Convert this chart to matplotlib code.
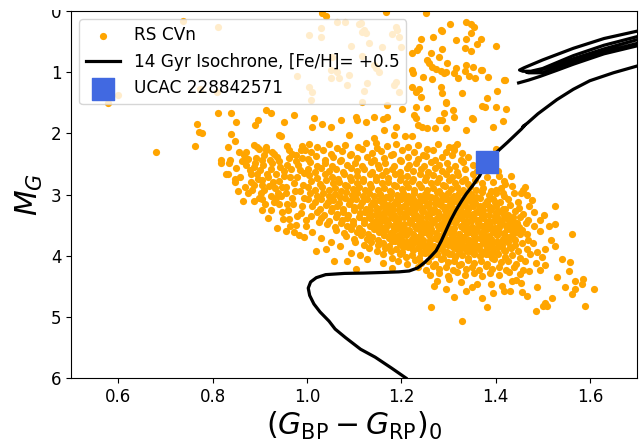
import matplotlib
matplotlib.use("Agg")
import matplotlib.pyplot as plt
from matplotlib.patches import Rectangle
import numpy as np

# ---------------- data ----------------
# RS CVn stars: (BP-RP)_0 colour, absolute G magnitude
rs_sparse = [
    (0.579,1.51),(0.681,2.30),(0.762,2.21),(0.768,1.84),(0.772,1.98),(0.777,2.00),(0.811,1.66),(0.840,1.67),
    (0.849,1.82),(0.840,2.01),(0.847,2.13),(0.832,2.23),(0.891,1.87),(0.896,1.79),(0.913,1.62),(0.923,1.66),
    (0.951,1.82),(0.972,1.70),(1.009,1.46),(1.015,1.75),(1.032,1.84),(1.011,1.90),(1.051,1.90),(1.072,1.79),
    (0.945,2.04),(0.940,2.03),
    (0.555,1.41),(0.600,1.38),(0.738,0.16),(0.811,0.26),(0.774,1.28),(0.809,1.33),(0.979,1.07),(1.004,1.25),
    (1.004,0.39),(1.030,0.28),(1.030,0.43),(1.064,0.18),(1.081,0.18),(1.111,0.21),(1.121,0.31),(1.126,0.36),
    (1.189,0.26),(1.191,0.31),(1.181,0.38),(1.094,0.57),(1.132,0.52),(1.051,0.97),(1.064,1.00),(1.089,1.05),
    (1.128,1.18),(1.121,1.30),(1.085,1.21),(1.189,1.16),(1.185,1.21),(1.143,0.89),(1.147,0.93),(1.051,1.10),
    (1.011,1.33),(1.196,1.33),(1.053,0.75),(1.117,0.74),(1.160,0.59),(1.200,0.59),(1.068,1.10),(1.153,1.00),
    (1.196,0.43),(1.115,0.20),(1.117,0.34),
    (1.032,0.03),(1.040,0.08),(1.168,0.02),(1.253,0.03),(1.304,0.21),(1.285,0.31),(1.268,0.43),(1.243,0.46),
    (1.238,0.59),(1.234,0.64),(1.223,0.69),(1.264,0.69),(1.281,0.75),(1.255,0.80),(1.260,0.85),(1.266,0.92),
    (1.274,0.95),(1.285,0.98),(1.291,1.02),(1.298,0.85),(1.223,0.97),(1.226,1.02),(1.247,1.08),(1.266,1.11),
    (1.313,1.02),(1.223,1.25),(1.232,1.33),(1.243,1.41),(1.285,1.25),(1.287,1.34),(1.296,1.51),(1.309,1.62),
    (1.313,1.74),(1.255,1.59),(1.232,1.57),(1.281,1.79),(1.338,0.18),(1.349,0.21),(1.355,0.26),(1.347,0.36),
    (1.287,0.33),(1.317,0.48),(1.338,0.46),(1.360,0.54),(1.370,0.46),(1.336,0.61),(1.349,0.66),(1.287,0.62),
    (1.402,0.57),(1.296,1.00),(1.336,0.98),(1.353,0.92),(1.370,0.97),(1.343,1.07),(1.357,1.10),(1.385,1.08),
    (1.321,1.10),(1.421,1.12),(1.328,1.34),(1.404,1.30),(1.296,1.48),(1.381,1.43),(1.372,1.56),(1.402,1.57),
    (1.423,1.61),(1.353,1.77),(1.415,1.80),(1.338,1.95),(1.394,1.90),(1.313,2.23),(1.294,2.30),(1.287,2.39),
    (1.402,2.25),(1.117,1.49),(1.170,1.54),(1.202,1.61),(1.228,1.70),(1.232,1.75),(1.104,1.74),(1.106,1.79),
    (1.126,1.82),(1.143,1.74),(1.162,1.77),(1.170,1.74),(1.189,1.90),(1.164,1.95),(1.185,2.03),(1.209,2.05),
    (1.223,2.05),(1.236,1.87),(1.245,1.90),(1.255,1.92),(1.272,1.92),(1.287,1.79),(1.296,1.92),(1.291,1.67),
    (1.089,2.02),(1.143,2.08),(1.147,2.15),(1.351,1.75),(1.377,1.57),(1.419,1.13),(1.238,1.28),(1.317,0.93),
    (1.338,0.89),(1.372,0.97),
]

rs_band_left = [
    (0.817,2.43),(0.817,2.48),(0.838,2.44),(0.836,2.49),(0.849,2.57),(0.828,2.67),(0.832,2.66),(0.847,2.75),
    (0.847,2.80),(0.855,2.95),(0.864,3.11),(0.857,2.30),(0.872,2.31),(0.862,2.46),(0.870,2.52),(0.881,2.67),
    (0.881,2.79),(0.889,2.85),(0.891,2.49),(0.894,2.23),(0.889,2.19),(0.899,2.26),(0.894,2.66),(0.889,3.10),
    (0.898,3.05),(0.904,3.07),(0.887,2.55),(0.904,2.44),(0.904,2.77),(0.909,2.92),(0.906,3.25),(0.913,2.28),
    (0.926,2.49),(0.915,2.66),(0.934,2.66),(0.930,2.33),(0.913,2.23),(0.926,2.31),(0.923,3.02),(0.934,3.05),
    (0.945,3.02),(0.955,2.98),(0.936,3.54),(0.955,3.59),(0.957,2.20),(0.968,2.33),(0.989,2.20),(0.987,2.28),
    (0.983,3.67),(0.940,2.78),(0.919,2.86),(0.948,2.88),(0.952,2.62),(0.941,2.45),(0.958,2.52),(0.918,3.38),
    (0.947,3.28),(0.962,3.40),(0.971,3.15),(0.965,2.72),(0.975,2.95),(0.978,2.45),(0.985,2.60),(0.992,2.85),
    (0.995,3.05),(0.988,3.30),(0.998,3.52),(0.973,3.62),(0.868,2.88),(0.876,2.42),(0.875,2.97),(0.900,2.60),
    (0.910,2.35),(0.925,2.58),(0.932,2.90),(0.958,3.15),(0.978,3.50),(0.963,2.40),(0.980,2.72),(0.990,2.40),
    (0.995,3.70),(1.012,3.62),(1.031,3.71),(1.052,3.78),(1.071,3.85),(1.094,3.95),(1.112,3.99),(1.026,3.45),
    (1.008,3.35),
    (0.858,2.72),(0.866,2.36),(0.879,2.60),(0.884,2.93),(0.893,2.40),(0.897,2.74),(0.903,2.98),(0.908,2.52),
    (0.912,3.15),(0.917,2.71),(0.921,2.43),(0.928,2.80),(0.931,3.12),(0.937,2.38),(0.939,2.98),(0.944,2.55),
    (0.949,3.40),(0.951,2.70),(0.956,2.87),(0.960,3.25),(0.962,2.28),(0.966,2.58),(0.969,3.05),(0.972,2.82),
    (0.976,2.35),(0.979,3.35),(0.982,2.52),(0.986,2.95),(0.989,3.18),(0.993,2.65),(0.996,2.27),(0.998,3.42),
    (0.965,3.52),(0.942,3.15),(0.925,3.25),(0.905,2.85),
]

rs_band_upper = [
    (1.004,2.18),(1.021,2.23),(1.046,2.17),(1.063,2.24),(1.081,2.19),(1.108,2.22),(1.125,2.16),(1.149,2.24),
    (1.171,2.20),(1.188,2.17),(1.214,2.23),(1.236,2.19),(1.255,2.25),(1.279,2.17),(1.301,2.22),(1.318,2.18),
    (1.009,2.31),(1.034,2.27),(1.052,2.34),(1.074,2.29),(1.093,2.33),(1.117,2.26),(1.139,2.32),(1.158,2.29),
    (1.183,2.34),(1.201,2.27),(1.227,2.31),(1.246,2.35),(1.268,2.28),(1.311,2.27),(1.329,2.32),
    (1.002,2.42),(1.019,2.37),(1.038,2.43),(1.055,2.39),(1.072,2.44),(1.091,2.36),(1.106,2.41),(1.127,2.38),
    (1.142,2.44),(1.163,2.40),(1.178,2.36),(1.197,2.43),(1.215,2.38),(1.236,2.42),(1.252,2.37),(1.271,2.44),
    (1.308,2.36),(1.326,2.43),(1.342,2.39),
    (1.007,2.47),(1.022,2.53),(1.039,2.49),(1.054,2.54),(1.071,2.46),(1.086,2.51),(1.103,2.48),(1.118,2.54),
    (1.135,2.47),(1.151,2.52),(1.166,2.49),(1.184,2.54),(1.199,2.46),(1.216,2.51),(1.231,2.48),(1.249,2.53),
    (1.264,2.47),(1.281,2.52),(1.297,2.49),(1.314,2.54),(1.331,2.47),(1.352,2.51),
    (1.003,2.58),(1.017,2.63),(1.031,2.57),(1.048,2.62),(1.062,2.59),(1.077,2.64),(1.093,2.56),(1.107,2.61),
    (1.121,2.58),(1.138,2.63),(1.152,2.57),(1.167,2.62),(1.181,2.59),(1.197,2.64),(1.212,2.57),(1.226,2.61),
    (1.242,2.58),(1.257,2.63),(1.271,2.56),(1.287,2.61),(1.302,2.59),(1.318,2.64),(1.335,2.58),(1.361,2.62),
    (1.004,2.68),(1.022,2.73),(1.039,2.66),(1.053,2.71),(1.066,2.74),(1.079,2.67),(1.092,2.72),(1.106,2.69),
    (1.119,2.74),(1.133,2.66),(1.146,2.71),(1.159,2.68),(1.173,2.73),(1.186,2.67),(1.199,2.72),(1.213,2.69),
    (1.226,2.74),(1.240,2.66),(1.253,2.71),(1.267,2.68),(1.280,2.73),(1.294,2.66),(1.307,2.71),(1.321,2.68),
    (1.336,2.74),(1.352,2.67),(1.381,2.72),(1.408,2.69),
    (1.009,2.78),(1.027,2.83),(1.041,2.77),(1.055,2.82),(1.068,2.79),(1.081,2.84),(1.094,2.76),(1.107,2.81),
    (1.120,2.78),(1.133,2.83),(1.146,2.77),(1.159,2.82),(1.172,2.79),(1.185,2.84),(1.198,2.76),(1.211,2.81),
    (1.224,2.78),(1.237,2.83),(1.250,2.77),(1.263,2.82),(1.276,2.79),(1.289,2.84),(1.302,2.76),(1.315,2.81),
    (1.328,2.78),(1.341,2.83),(1.357,2.77),(1.372,2.82),(1.395,2.79),(1.421,2.83),
    (1.002,2.88),(1.018,2.93),(1.033,2.87),(1.046,2.92),(1.059,2.89),(1.072,2.94),(1.085,2.86),(1.098,2.91),
    (1.111,2.88),(1.124,2.93),(1.137,2.87),(1.150,2.92),(1.163,2.89),(1.176,2.94),(1.189,2.86),(1.202,2.91),
    (1.215,2.88),(1.228,2.93),(1.241,2.87),(1.254,2.92),(1.267,2.89),(1.280,2.94),(1.293,2.86),(1.306,2.91),
    (1.319,2.88),(1.332,2.93),(1.345,2.87),(1.359,2.92),(1.374,2.89),(1.391,2.94),(1.412,2.90),(1.436,2.86),
    (1.458,2.93),(1.462,2.87),(1.455,2.98),(1.415,2.97),(1.402,2.93),(1.405,2.62),(1.418,2.78),(1.433,2.70),
]

rs_band_core = [
    (1.006,2.98),(1.021,3.03),(1.034,2.97),(1.047,3.02),(1.059,2.99),(1.071,3.04),(1.083,2.96),(1.095,3.01),
    (1.107,2.98),(1.119,3.03),(1.131,2.97),(1.143,3.02),(1.155,2.99),(1.167,3.04),(1.179,2.96),(1.191,3.01),
    (1.203,2.98),(1.215,3.03),(1.227,2.97),(1.239,3.02),(1.251,2.99),(1.263,3.04),(1.275,2.96),(1.287,3.01),
    (1.299,2.98),(1.311,3.03),(1.323,2.97),(1.335,3.02),(1.347,2.99),(1.359,3.04),(1.372,2.96),(1.386,3.01),
    (1.401,2.98),(1.418,3.03),(1.439,2.97),(1.466,3.01),
    (1.003,3.08),(1.017,3.13),(1.031,3.07),(1.044,3.12),(1.056,3.09),(1.068,3.14),(1.080,3.06),(1.092,3.11),
    (1.104,3.08),(1.116,3.13),(1.128,3.07),(1.140,3.12),(1.152,3.09),(1.164,3.14),(1.176,3.06),(1.188,3.11),
    (1.200,3.08),(1.212,3.13),(1.224,3.07),(1.236,3.12),(1.248,3.09),(1.260,3.14),(1.272,3.06),(1.284,3.11),
    (1.296,3.08),(1.308,3.13),(1.320,3.07),(1.332,3.12),(1.344,3.09),(1.356,3.14),(1.368,3.06),(1.381,3.11),
    (1.395,3.08),(1.410,3.13),(1.426,3.07),(1.447,3.12),(1.478,3.09),
    (1.012,3.18),(1.027,3.23),(1.040,3.17),(1.053,3.22),(1.065,3.19),(1.077,3.24),(1.089,3.16),(1.101,3.21),
    (1.113,3.18),(1.125,3.23),(1.137,3.17),(1.149,3.22),(1.161,3.19),(1.173,3.24),(1.185,3.16),(1.197,3.21),
    (1.209,3.18),(1.221,3.23),(1.233,3.17),(1.245,3.22),(1.257,3.19),(1.269,3.24),(1.281,3.16),(1.293,3.21),
    (1.305,3.18),(1.317,3.23),(1.329,3.17),(1.341,3.22),(1.353,3.19),(1.365,3.24),(1.377,3.16),(1.389,3.21),
    (1.402,3.18),(1.416,3.23),(1.431,3.17),(1.449,3.22),(1.472,3.19),(1.526,3.18),
    (1.022,3.28),(1.037,3.33),(1.051,3.27),(1.064,3.32),(1.076,3.29),(1.088,3.34),(1.100,3.26),(1.112,3.31),
    (1.124,3.28),(1.136,3.33),(1.148,3.27),(1.160,3.32),(1.172,3.29),(1.184,3.34),(1.196,3.26),(1.208,3.31),
    (1.220,3.28),(1.232,3.33),(1.244,3.27),(1.256,3.32),(1.268,3.29),(1.280,3.34),(1.292,3.26),(1.304,3.31),
    (1.316,3.28),(1.328,3.33),(1.340,3.27),(1.352,3.32),(1.364,3.29),(1.376,3.34),(1.388,3.26),(1.400,3.31),
    (1.413,3.28),(1.427,3.33),(1.442,3.27),(1.459,3.32),(1.481,3.29),(1.503,3.34),
    (1.031,3.38),(1.047,3.43),(1.061,3.37),(1.074,3.42),(1.086,3.39),(1.098,3.44),(1.110,3.36),(1.122,3.41),
    (1.134,3.38),(1.146,3.43),(1.158,3.37),(1.170,3.42),(1.182,3.39),(1.194,3.44),(1.206,3.36),(1.218,3.41),
    (1.230,3.38),(1.242,3.43),(1.254,3.37),(1.266,3.42),(1.278,3.39),(1.290,3.44),(1.302,3.36),(1.314,3.41),
    (1.326,3.38),(1.338,3.43),(1.350,3.37),(1.362,3.42),(1.374,3.39),(1.386,3.44),(1.398,3.36),(1.410,3.41),
    (1.423,3.38),(1.437,3.43),(1.452,3.37),(1.468,3.42),(1.494,3.41),(1.513,3.51),(1.526,3.48),
    (1.043,3.48),(1.059,3.53),(1.073,3.47),(1.086,3.52),(1.098,3.49),(1.110,3.54),(1.122,3.46),(1.134,3.51),
    (1.146,3.48),(1.158,3.53),(1.170,3.47),(1.182,3.52),(1.194,3.49),(1.206,3.54),(1.218,3.46),(1.230,3.51),
    (1.242,3.48),(1.254,3.53),(1.266,3.47),(1.278,3.52),(1.290,3.49),(1.302,3.54),(1.314,3.46),(1.326,3.51),
    (1.338,3.48),(1.350,3.53),(1.362,3.47),(1.374,3.52),(1.386,3.49),(1.398,3.54),(1.410,3.46),(1.422,3.51),
    (1.435,3.48),(1.449,3.53),(1.464,3.47),(1.482,3.52),
    (1.061,3.58),(1.078,3.63),(1.093,3.57),(1.106,3.62),(1.118,3.59),(1.130,3.64),(1.142,3.56),(1.154,3.61),
    (1.166,3.58),(1.178,3.63),(1.190,3.57),(1.202,3.62),(1.214,3.59),(1.226,3.64),(1.238,3.56),(1.250,3.61),
    (1.262,3.58),(1.274,3.63),(1.286,3.57),(1.298,3.62),(1.310,3.59),(1.322,3.64),(1.334,3.56),(1.346,3.61),
    (1.358,3.58),(1.370,3.63),(1.382,3.57),(1.394,3.62),(1.406,3.59),(1.418,3.64),(1.430,3.56),(1.443,3.61),
    (1.457,3.58),(1.466,3.64),(1.494,3.59),(1.562,3.64),
    (1.082,3.68),(1.099,3.73),(1.114,3.67),(1.127,3.72),(1.139,3.69),(1.151,3.74),(1.163,3.66),(1.175,3.71),
    (1.187,3.68),(1.199,3.73),(1.211,3.67),(1.223,3.72),(1.235,3.69),(1.247,3.74),(1.259,3.66),(1.271,3.71),
    (1.283,3.68),(1.295,3.73),(1.307,3.67),(1.319,3.72),(1.331,3.69),(1.343,3.74),(1.355,3.66),(1.367,3.71),
    (1.379,3.68),(1.391,3.73),(1.403,3.67),(1.415,3.72),(1.428,3.69),(1.442,3.74),(1.468,3.75),(1.517,3.74),
    (1.479,3.80),
    (1.103,3.78),(1.121,3.83),(1.137,3.77),(1.150,3.82),(1.162,3.79),(1.174,3.84),(1.186,3.76),(1.198,3.81),
    (1.210,3.78),(1.222,3.83),(1.234,3.77),(1.246,3.82),(1.258,3.79),(1.270,3.84),(1.282,3.76),(1.294,3.81),
    (1.306,3.78),(1.318,3.83),(1.330,3.77),(1.342,3.82),(1.354,3.79),(1.366,3.84),(1.378,3.76),(1.390,3.81),
    (1.402,3.78),(1.414,3.83),(1.427,3.77),(1.441,3.82),(1.456,3.79),(1.504,3.89),(1.526,3.84),
    (1.019,3.92),(1.040,3.89),(1.131,3.88),(1.149,3.93),(1.165,3.87),(1.178,3.92),(1.190,3.89),(1.202,3.94),
    (1.214,3.86),(1.226,3.91),(1.238,3.88),(1.250,3.93),(1.262,3.87),(1.274,3.92),(1.286,3.89),(1.298,3.94),
    (1.310,3.86),(1.322,3.91),(1.334,3.88),(1.346,3.93),(1.358,3.87),(1.370,3.92),(1.382,3.89),(1.394,3.94),
    (1.406,3.86),(1.419,3.91),(1.433,3.88),(1.448,3.93),(1.466,3.89),(1.489,3.94),
]

# extra stars that fill the densest part of the clump
rs_core_fill = [
    (1.161,3.06),(1.177,3.03),(1.193,3.07),(1.209,3.04),(1.225,3.08),(1.241,3.05),(1.257,3.03),(1.273,3.07),
    (1.289,3.04),(1.305,3.08),(1.321,3.05),(1.337,3.03),(1.353,3.07),
    (1.143,3.16),(1.159,3.13),(1.175,3.17),(1.191,3.14),(1.207,3.18),(1.223,3.15),(1.239,3.13),(1.255,3.17),
    (1.271,3.14),(1.287,3.18),(1.303,3.15),(1.319,3.13),(1.335,3.17),(1.351,3.14),(1.367,3.18),(1.383,3.15),
    (1.399,3.13),
    (1.134,3.26),(1.150,3.23),(1.166,3.27),(1.182,3.24),(1.198,3.28),(1.214,3.25),(1.230,3.23),(1.246,3.27),
    (1.262,3.24),(1.278,3.28),(1.294,3.25),(1.310,3.23),(1.326,3.27),(1.342,3.24),(1.358,3.28),(1.374,3.25),
    (1.390,3.23),(1.406,3.27),(1.420,3.24),
    (1.131,3.36),(1.147,3.33),(1.163,3.37),(1.179,3.34),(1.195,3.38),(1.211,3.35),(1.227,3.33),(1.243,3.37),
    (1.259,3.34),(1.275,3.38),(1.291,3.35),(1.307,3.33),(1.323,3.37),(1.339,3.34),(1.355,3.38),(1.371,3.35),
    (1.387,3.33),(1.403,3.37),(1.419,3.34),(1.437,3.36),
    (1.141,3.46),(1.157,3.43),(1.173,3.47),(1.189,3.44),(1.205,3.48),(1.221,3.45),(1.237,3.43),(1.253,3.47),
    (1.269,3.44),(1.285,3.48),(1.301,3.45),(1.317,3.43),(1.333,3.47),(1.349,3.44),(1.365,3.48),(1.381,3.45),
    (1.397,3.43),(1.413,3.47),(1.429,3.44),(1.445,3.46),
    (1.152,3.56),(1.168,3.53),(1.184,3.57),(1.200,3.54),(1.216,3.58),(1.232,3.55),(1.248,3.53),(1.264,3.57),
    (1.280,3.54),(1.296,3.58),(1.312,3.55),(1.328,3.53),(1.344,3.57),(1.360,3.54),(1.376,3.58),(1.392,3.55),
    (1.408,3.53),(1.424,3.57),(1.440,3.54),
    (1.163,3.66),(1.179,3.63),(1.195,3.67),(1.211,3.64),(1.227,3.68),(1.243,3.65),(1.259,3.63),(1.275,3.67),
    (1.291,3.64),(1.307,3.68),(1.323,3.65),(1.339,3.63),(1.355,3.67),(1.371,3.64),(1.387,3.68),(1.403,3.65),
    (1.419,3.63),(1.435,3.67),(1.452,3.65),
    (1.181,3.76),(1.197,3.73),(1.213,3.77),(1.229,3.74),(1.245,3.78),(1.261,3.75),(1.277,3.73),(1.293,3.77),
    (1.309,3.74),(1.325,3.78),(1.341,3.75),(1.357,3.73),(1.373,3.77),(1.389,3.74),(1.405,3.78),(1.421,3.75),
    (1.440,3.73),
    (1.203,3.86),(1.219,3.83),(1.235,3.87),(1.251,3.84),(1.267,3.88),(1.283,3.85),(1.299,3.83),(1.315,3.87),
    (1.331,3.84),(1.347,3.88),(1.363,3.85),(1.379,3.83),(1.395,3.87),(1.411,3.84),(1.430,3.86),
    (1.243,3.96),(1.259,3.93),(1.275,3.97),(1.291,3.94),(1.307,3.98),(1.323,3.95),(1.339,3.93),(1.355,3.97),
    (1.371,3.94),(1.387,3.98),(1.403,3.95),(1.420,3.93),
]

rs_band_lower = [
    (1.057,4.08),(1.085,4.08),(1.128,4.05),(1.162,3.98),(1.181,4.03),(1.197,3.97),(1.211,4.02),(1.224,3.99),
    (1.237,4.04),(1.250,3.96),(1.263,4.01),(1.276,3.98),(1.289,4.03),(1.302,3.97),(1.315,4.02),(1.328,3.99),
    (1.341,4.04),(1.354,3.96),(1.367,4.01),(1.380,3.98),(1.393,4.03),(1.406,3.97),(1.420,4.02),(1.435,3.99),
    (1.452,4.04),(1.474,3.98),(1.498,4.02),(1.540,4.05),
    (1.104,4.21),(1.161,4.12),(1.193,4.08),(1.212,4.13),(1.229,4.07),(1.243,4.12),(1.257,4.09),(1.271,4.14),
    (1.285,4.06),(1.299,4.11),(1.313,4.08),(1.327,4.13),(1.341,4.07),(1.355,4.12),(1.369,4.09),(1.383,4.14),
    (1.397,4.06),(1.411,4.11),(1.426,4.08),(1.443,4.13),(1.462,4.09),(1.485,4.12),(1.557,4.11),
    (1.181,4.20),(1.236,4.18),(1.252,4.23),(1.267,4.17),(1.281,4.22),(1.295,4.19),(1.309,4.24),(1.323,4.16),
    (1.337,4.21),(1.351,4.18),(1.365,4.23),(1.379,4.17),(1.393,4.22),(1.408,4.19),(1.423,4.24),(1.440,4.18),
    (1.459,4.23),(1.472,4.25),(1.494,4.23),(1.504,4.16),
    (1.262,4.31),(1.281,4.28),(1.299,4.33),(1.318,4.27),(1.336,4.32),(1.354,4.29),(1.371,4.34),(1.389,4.28),
    (1.408,4.32),(1.428,4.27),(1.451,4.30),(1.436,4.41),(1.270,4.49),(1.443,4.39),
    (1.276,4.41),(1.301,4.38),(1.326,4.43),(1.351,4.52),(1.360,4.46),(1.391,4.46),(1.413,4.49),(1.394,4.61),
    (1.419,4.57),(1.430,4.57),(1.457,4.59),(1.466,4.66),(1.487,4.52),(1.547,4.52),(1.568,4.54),(1.562,4.62),
    (1.609,4.54),(1.568,4.41),(1.585,4.38),(1.583,4.46),
    (1.589,4.82),(1.519,4.69),(1.504,4.77),(1.510,4.82),(1.500,4.82),(1.485,4.90),(1.383,4.84),(1.328,5.07),
    (1.311,4.67),(1.264,4.84),(1.296,4.55),(1.338,4.58),(1.372,4.70),(1.454,4.45),(1.530,4.35),(1.555,4.25),
]

# 14 Gyr isochrone, [Fe/H] = +0.5 (main track and the loops near the top right)
iso_main = [
    (1.210,6.00),(1.180,5.84),(1.145,5.66),(1.114,5.53),(1.082,5.34),(1.060,5.20),(1.047,5.07),(1.028,4.92),
    (1.015,4.79),(1.006,4.65),(1.003,4.53),(1.008,4.43),(1.020,4.36),(1.040,4.31),(1.080,4.29),(1.120,4.285),
    (1.160,4.275),(1.195,4.265),(1.217,4.25),(1.235,4.20),(1.250,4.11),(1.262,4.02),(1.274,3.92),(1.285,3.76),
    (1.295,3.59),(1.305,3.42),(1.316,3.26),(1.327,3.12),(1.338,2.99),(1.352,2.85),(1.366,2.70),(1.374,2.58),
    (1.381,2.47),(1.392,2.37),(1.405,2.29),(1.425,2.15),(1.455,1.93),(1.462,1.87),(1.458,1.89),(1.468,1.83),
    (1.490,1.68),(1.530,1.45),(1.565,1.28),(1.600,1.14),(1.650,1.01),(1.700,0.90),
]
iso_loop1 = [(1.70,0.33),(1.63,0.45),(1.565,0.61),(1.50,0.80),(1.46,0.93),(1.451,0.965),(1.458,0.985),
             (1.475,0.985),(1.50,0.94),(1.565,0.73),(1.63,0.56),(1.70,0.42)]
iso_loop2 = [(1.70,0.47),(1.63,0.62),(1.565,0.78),(1.52,0.90),(1.49,0.98),(1.465,1.00),(1.47,1.01),
             (1.50,1.01),(1.565,0.83),(1.63,0.67),(1.70,0.53)]
iso_loop3 = [(1.449,1.175),(1.47,1.13),(1.494,1.07),(1.53,0.97),(1.565,0.87),(1.63,0.70),(1.70,0.57)]

target_color = [1.381]
target_mg = [2.475]

xticks = [0.6, 0.8, 1.0, 1.2, 1.4, 1.6]
yticks = [0, 1, 2, 3, 4, 5, 6]

# ---------------- plot ----------------
fig = plt.figure(figsize=(6.39, 4.43), dpi=100)
ax = fig.add_axes([71/639, 1 - 378/443, (637 - 71)/639, (378 - 11)/443])

rs = np.array(rs_sparse + rs_band_left + rs_band_upper + rs_band_core + rs_core_fill + rs_band_lower)
ax.scatter(rs[:, 0], rs[:, 1], s=27, color='orange', linewidths=0, label='RS CVn', zorder=2)

first = True
for track in (iso_main, iso_loop1, iso_loop2, iso_loop3):
    t = np.array(track)
    ax.plot(t[:, 0], t[:, 1], color='black', lw=2.3, zorder=3,
            label='14 Gyr Isochrone, [Fe/H]= +0.5' if first else None)
    first = False

ax.scatter(target_color, target_mg, marker='s', s=250, color='royalblue', label='UCAC 228842571', zorder=4)

ax.set_xlim(0.5, 1.7)
ax.set_ylim(6, 0)
ax.set_xticks(xticks)
ax.set_yticks(yticks)
ax.tick_params(labelsize=12)
ax.set_xlabel(r'$(G_{\rm BP}-G_{\rm RP})_0$', fontsize=21.5, labelpad=3)
ax.set_ylabel(r'$M_G$', fontsize=21.5)
ax.legend(loc='upper left', fontsize=12.2)

# the reference image is trimmed at the top, cutting the upper half of the "0" label
fig.add_artist(Rectangle((0, 1 - 10/443), 1, 10/443, transform=fig.transFigure,
                         facecolor='white', edgecolor='none', zorder=10))

fig.savefig('out.png', dpi=100)
